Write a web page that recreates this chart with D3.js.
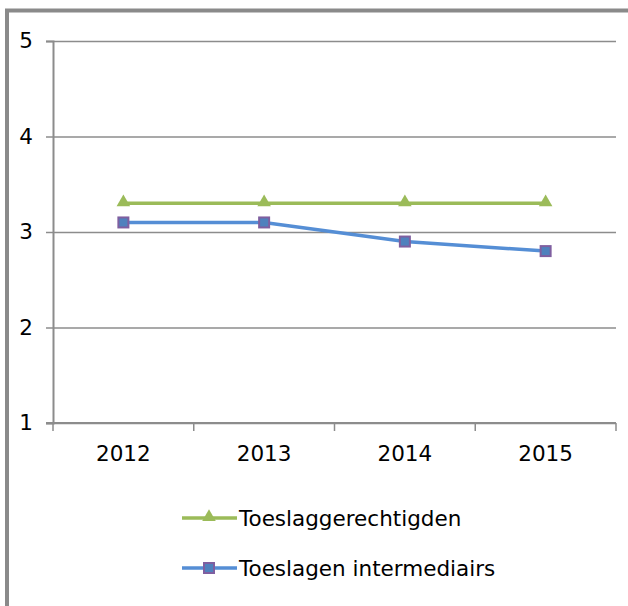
<!DOCTYPE html>
<html>
<head>
<meta charset="utf-8">
<script src="https://cdn.jsdelivr.net/npm/d3@7"></script>
<style>
  body { margin: 0; background: #fff; }
  svg text { font-family: "DejaVu Sans", Verdana, sans-serif; fill: #000; }
</style>
</head>
<body>
<svg width="628" height="606"></svg>
<script>
const years        = ["2012", "2013", "2014", "2015"];
const gerechtigden = [3.3, 3.3, 3.3, 3.3];
const intermediair = [3.1, 3.1, 2.9, 2.8];
const yTicks       = [1, 2, 3, 4, 5];
const seriesNames  = ["Toeslaggerechtigden", "Toeslagen intermediairs"];

let svg     = d3.select("svg"),
    pLeft   = 53,
    pRight  = 616,
    pTop    = 41,
    pBottom = 423,
    fSize   = 21.5,
    x       = d3.scaleBand().domain(years).range([pLeft, pRight]),
    y       = d3.scaleLinear().domain([1, 5]).range([pBottom, pTop]),
    green   = "#9bbb59",
    blue    = "#558ed5",
    grid    = "#8c8c8c";

// outer frame (left + top edge only visible)
svg.append("path")
  .attr("d", "M7,606 V10.5 H628")
  .attr("fill", "none")
  .attr("stroke", "#8a8a8a")
  .attr("stroke-width", 4);

// horizontal gridlines
svg.append("g")
  .attr("transform", `translate(${pLeft},0)`)
  .call(d3.axisLeft(y).tickValues(yTicks).tickSize(-(pRight - pLeft)).tickFormat(""))
  .call(g => g.select(".domain").remove())
  .call(g => g.selectAll("line").attr("stroke", grid).attr("stroke-width", 1.5));

// y axis
svg.append("g")
  .attr("transform", `translate(${pLeft},0)`)
  .call(d3.axisLeft(y).tickValues(yTicks).tickSize(7).tickPadding(13).tickFormat(d3.format("d")))
  .call(g => g.select(".domain").attr("stroke", grid).attr("stroke-width", 2))
  .call(g => g.selectAll("line").attr("stroke", grid).attr("stroke-width", 1.5))
  .call(g => g.selectAll("text").attr("font-size", fSize).attr("font-family", "DejaVu Sans"));

// x axis with ticks at category boundaries
let xBounds = years.map(d => x(d)).concat([pRight]);
let xAxis = svg.append("g").attr("transform", `translate(0,${pBottom})`);
xAxis.append("line")
  .attr("x1", pLeft - 7).attr("x2", pRight)
  .attr("stroke", grid).attr("stroke-width", 2);
xAxis.selectAll(".tick")
  .data(xBounds)
  .enter().append("line")
    .attr("x1", d => d).attr("x2", d => d)
    .attr("y1", 0).attr("y2", 8)
    .attr("stroke", grid).attr("stroke-width", 1.5);
xAxis.selectAll("text")
  .data(years)
  .enter().append("text")
    .attr("x", d => x(d) + x.bandwidth() / 2)
    .attr("y", 38)
    .attr("text-anchor", "middle")
    .attr("font-size", fSize)
    .text(d => d);

let line = d3.line()
  .x((d, i) => x(years[i]) + x.bandwidth() / 2)
  .y(d => y(d));

let triangle = d3.symbol().type(d3.symbolTriangle).size(80);

function drawSquare(sel) {
  sel.attr("width", 10).attr("height", 10)
    .attr("fill", "#4f81bd")
    .attr("stroke", "#7f5fa0")
    .attr("stroke-width", 2);
}

// series 1
svg.append("path")
  .datum(gerechtigden)
  .attr("d", line)
  .attr("fill", "none")
  .attr("stroke", green)
  .attr("stroke-width", 3.5);
svg.selectAll(".tri")
  .data(gerechtigden)
  .enter().append("path")
    .attr("class", "tri")
    .attr("transform", (d, i) => `translate(${x(years[i]) + x.bandwidth() / 2},${y(d) - 1})`)
    .attr("d", triangle)
    .attr("fill", green);

// series 2
svg.append("path")
  .datum(intermediair)
  .attr("d", line)
  .attr("fill", "none")
  .attr("stroke", blue)
  .attr("stroke-width", 3.5);
svg.selectAll(".sq")
  .data(intermediair)
  .enter().append("rect")
    .attr("class", "sq")
    .attr("x", (d, i) => x(years[i]) + x.bandwidth() / 2 - 5)
    .attr("y", d => y(d) - 5)
    .call(drawSquare);

// legend
let legend = svg.append("g").attr("transform", "translate(182,518)");
seriesNames.forEach((name, i) => {
  let row = legend.append("g").attr("transform", `translate(0,${i * 50})`);
  row.append("line")
    .attr("x1", 0).attr("x2", 55)
    .attr("stroke", i === 0 ? green : blue)
    .attr("stroke-width", 3.5);
  if (i === 0) {
    row.append("path")
      .attr("transform", "translate(27,-1)")
      .attr("d", triangle)
      .attr("fill", green);
  } else {
    row.append("rect").attr("x", 22).attr("y", -5).call(drawSquare);
  }
  row.append("text")
    .attr("x", 57)
    .attr("y", 8)
    .attr("font-size", fSize)
    .text(name);
});
</script>
</body>
</html>
